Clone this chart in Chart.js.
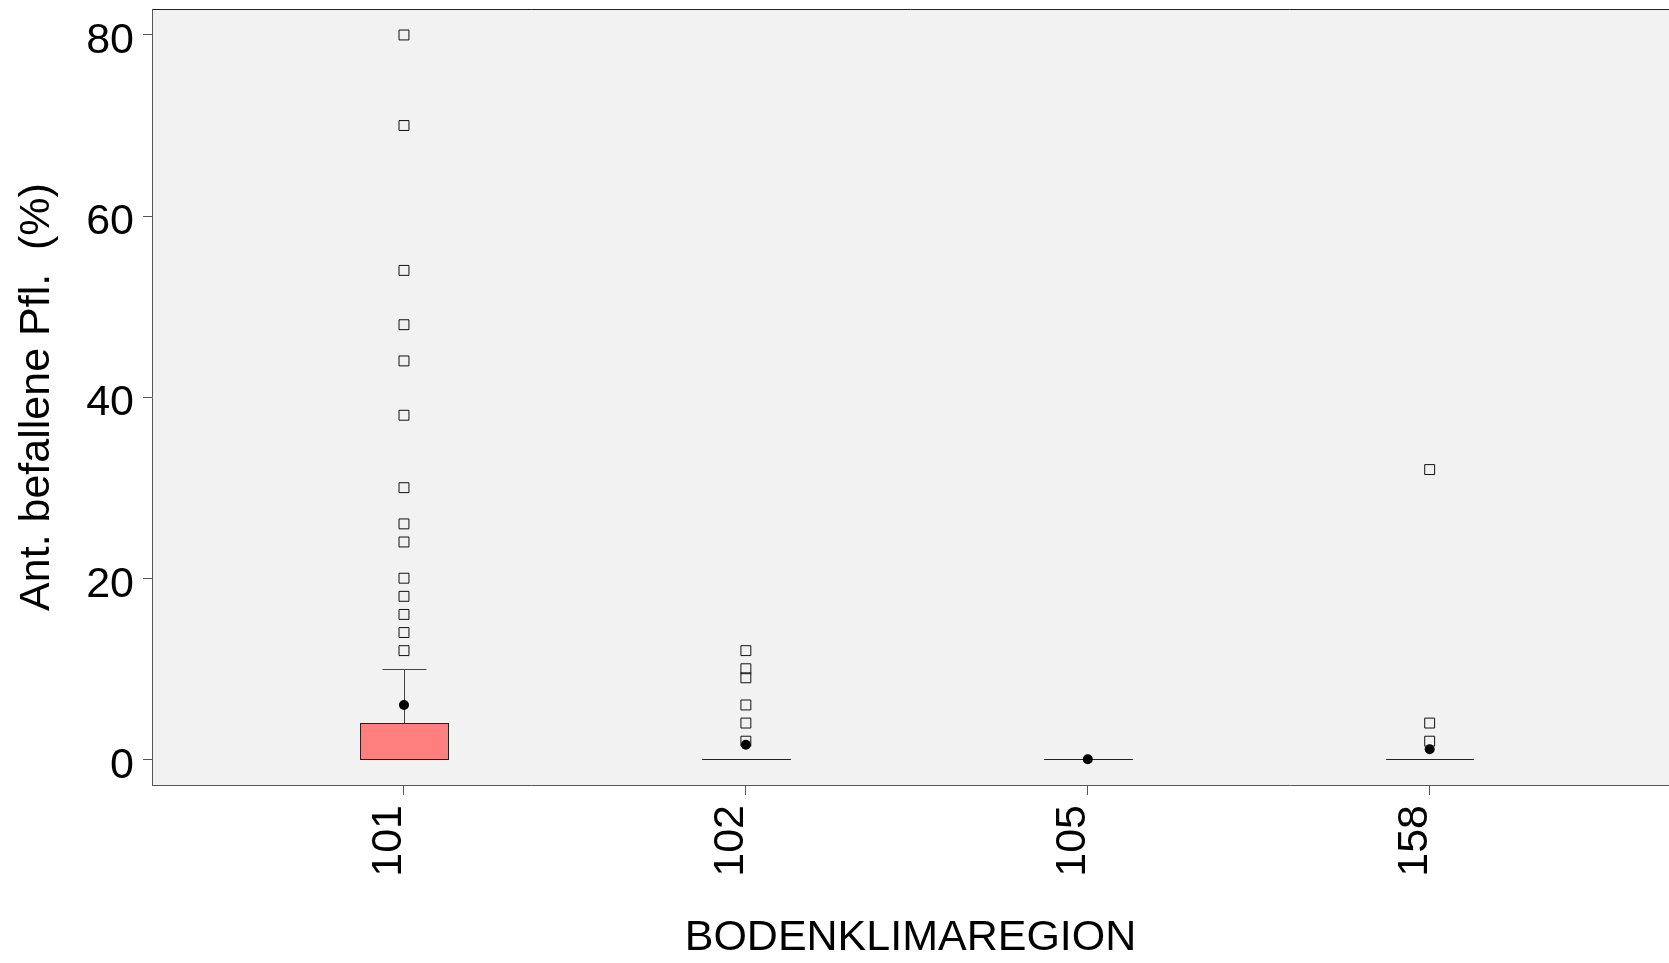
<!DOCTYPE html>
<html>
<head>
<meta charset="utf-8">
<script src="https://cdn.jsdelivr.net/npm/chart.js@4"></script>
<style>
  html, body { margin: 0; padding: 0; background: #fff; }
  canvas { display: block; }
</style>
</head>
<body>
<canvas id="myChart" width="1669" height="963"></canvas>
<script>
// Bodenklimaregionen (x-Achse)
const categories = ['101', '102', '105', '158'];
// Kennwerte der Boxen
const q1 = [0, 0, 0, 0];
const median = [0, 0, 0, 0];
const q3 = [4, 0, 0, 0];
const whiskerLow = [0, 0, 0, 0];
const whiskerHigh = [10, 0, 0, 0];
const means = [6, 1.6, 0, 1.1];
// Ausreisser je Region
const outliers101 = [80, 70, 54, 48, 44, 38, 30, 26, 24, 20, 18, 16, 14, 12];
const outliers102 = [12, 10, 9, 6, 4, 2];
const outliers105 = [];
const outliers158 = [32, 4, 2];
// Achsenbeschriftung
const yTicks = [0, 20, 40, 60, 80];

const FONT = '"Liberation Sans", Arial, sans-serif';
const BOX_HALF = 0.128;
const CAP_HALF = 0.0635;

const outlierPoints = [outliers101, outliers102, outliers105, outliers158]
    .flatMap((arr, i) => arr.map(v => ({ x: i + 1, y: v })));
const meanPoints = means.map((v, i) => ({ x: i + 1, y: v }));

// Hintergrund + Boxen, gezeichnet ueber die Skalen
const boxPlugin = {
    id: 'boxPlugin',
    beforeDraw(chart) {
        const { ctx, chartArea: a } = chart;
        ctx.save();
        ctx.fillStyle = '#f2f2f2';
        ctx.fillRect(a.left, a.top, a.right - a.left, a.bottom - a.top);
        ctx.strokeStyle = '#222';
        ctx.lineWidth = 1;
        ctx.beginPath();
        ctx.moveTo(a.left, a.top + 0.5);
        ctx.lineTo(a.right, a.top + 0.5);
        ctx.stroke();
        ctx.restore();
    },
    beforeDatasetsDraw(chart) {
        const { ctx, scales: { x, y } } = chart;
        const px = v => Math.round(v) + 0.5;
        ctx.save();
        ctx.lineWidth = 1;
        categories.forEach((c, i) => {
            const xc = px(x.getPixelForValue(i + 1));
            const xl = px(x.getPixelForValue(i + 1 - BOX_HALF));
            const xr = px(x.getPixelForValue(i + 1 + BOX_HALF));
            const cl = px(x.getPixelForValue(i + 1 - CAP_HALF));
            const cr = px(x.getPixelForValue(i + 1 + CAP_HALF));
            const yq1 = px(y.getPixelForValue(q1[i]));
            const yq3 = px(y.getPixelForValue(q3[i]));
            const ymed = px(y.getPixelForValue(median[i]));
            const yhi = px(y.getPixelForValue(whiskerHigh[i]));
            const ylo = px(y.getPixelForValue(whiskerLow[i]));
            // Whisker
            ctx.strokeStyle = '#444';
            if (whiskerHigh[i] > q3[i]) {
                ctx.beginPath();
                ctx.moveTo(xc, yq3); ctx.lineTo(xc, yhi);
                ctx.moveTo(cl, yhi); ctx.lineTo(cr, yhi);
                ctx.stroke();
            }
            if (whiskerLow[i] < q1[i]) {
                ctx.beginPath();
                ctx.moveTo(xc, yq1); ctx.lineTo(xc, ylo);
                ctx.moveTo(cl, ylo); ctx.lineTo(cr, ylo);
                ctx.stroke();
            }
            // Box
            ctx.fillStyle = '#ff7f7f';
            ctx.fillRect(xl, yq3, xr - xl, yq1 - yq3);
            ctx.strokeStyle = '#222';
            ctx.strokeRect(xl, yq3, xr - xl, yq1 - yq3);
            // Median
            ctx.beginPath();
            ctx.moveTo(xl, ymed); ctx.lineTo(xr, ymed);
            ctx.stroke();
        });
        ctx.restore();
    }
};

const config = {
    type: 'scatter',
    data: {
        datasets: [{
            label: 'Ausreisser',
            data: outlierPoints,
            pointStyle: 'rect',
            radius: 7,
            borderWidth: 1,
            borderColor: '#111',
            backgroundColor: 'rgba(0,0,0,0)'
        }, {
            label: 'Mittelwert',
            data: meanPoints,
            pointStyle: 'circle',
            radius: 5,
            borderWidth: 0,
            backgroundColor: '#000'
        }]
    },
    options: {
        responsive: false,
        animation: false,
        events: [],
        layout: { autoPadding: false, padding: { top: 9, left: 0, right: 0, bottom: 0 } },
        plugins: {
            legend: { display: false },
            tooltip: { enabled: false }
        },
        scales: {
            x: {
                type: 'linear',
                min: 0.263,
                max: 4.70,
                afterBuildTicks: s => { s.ticks = categories.map((c, i) => ({ value: i + 1 })); },
                afterFit: s => { s.height = 178; s.paddingLeft = 0; s.paddingRight = 0; },
                grid: { drawOnChartArea: false, tickLength: 10, tickColor: '#555' },
                border: { color: '#555' },
                ticks: {
                    minRotation: 90,
                    maxRotation: 90,
                    padding: 10,
                    labelOffset: -15,
                    color: '#000',
                    font: { family: FONT, size: 43 },
                    callback: v => categories[v - 1]
                },
                title: {
                    display: true,
                    text: 'BODENKLIMAREGION',
                    color: '#000',
                    font: { family: FONT, size: 43, lineHeight: 1 },
                    padding: { top: 0, bottom: 3.5 }
                }
            },
            y: {
                type: 'linear',
                min: -2.84,
                max: 82.87,
                afterBuildTicks: s => { s.ticks = yTicks.map(v => ({ value: v })); },
                afterFit: s => { s.width = 152; s.paddingTop = 0; s.paddingBottom = 0; },
                grid: { drawOnChartArea: false, tickLength: 9, tickColor: '#555' },
                border: { color: '#555' },
                ticks: {
                    padding: 9,
                    labelOffset: 6.5,
                    color: '#000',
                    font: { family: FONT, size: 43 }
                },
                title: {
                    display: true,
                    text: 'Ant. befallene Pfl.  (%)',
                    color: '#000',
                    font: { family: FONT, size: 43, lineHeight: 1 },
                    padding: { top: 16, bottom: 0 }
                }
            }
        }
    },
    plugins: [boxPlugin]
};

const myChart = new Chart(document.getElementById('myChart'), config);
</script>
</body>
</html>
